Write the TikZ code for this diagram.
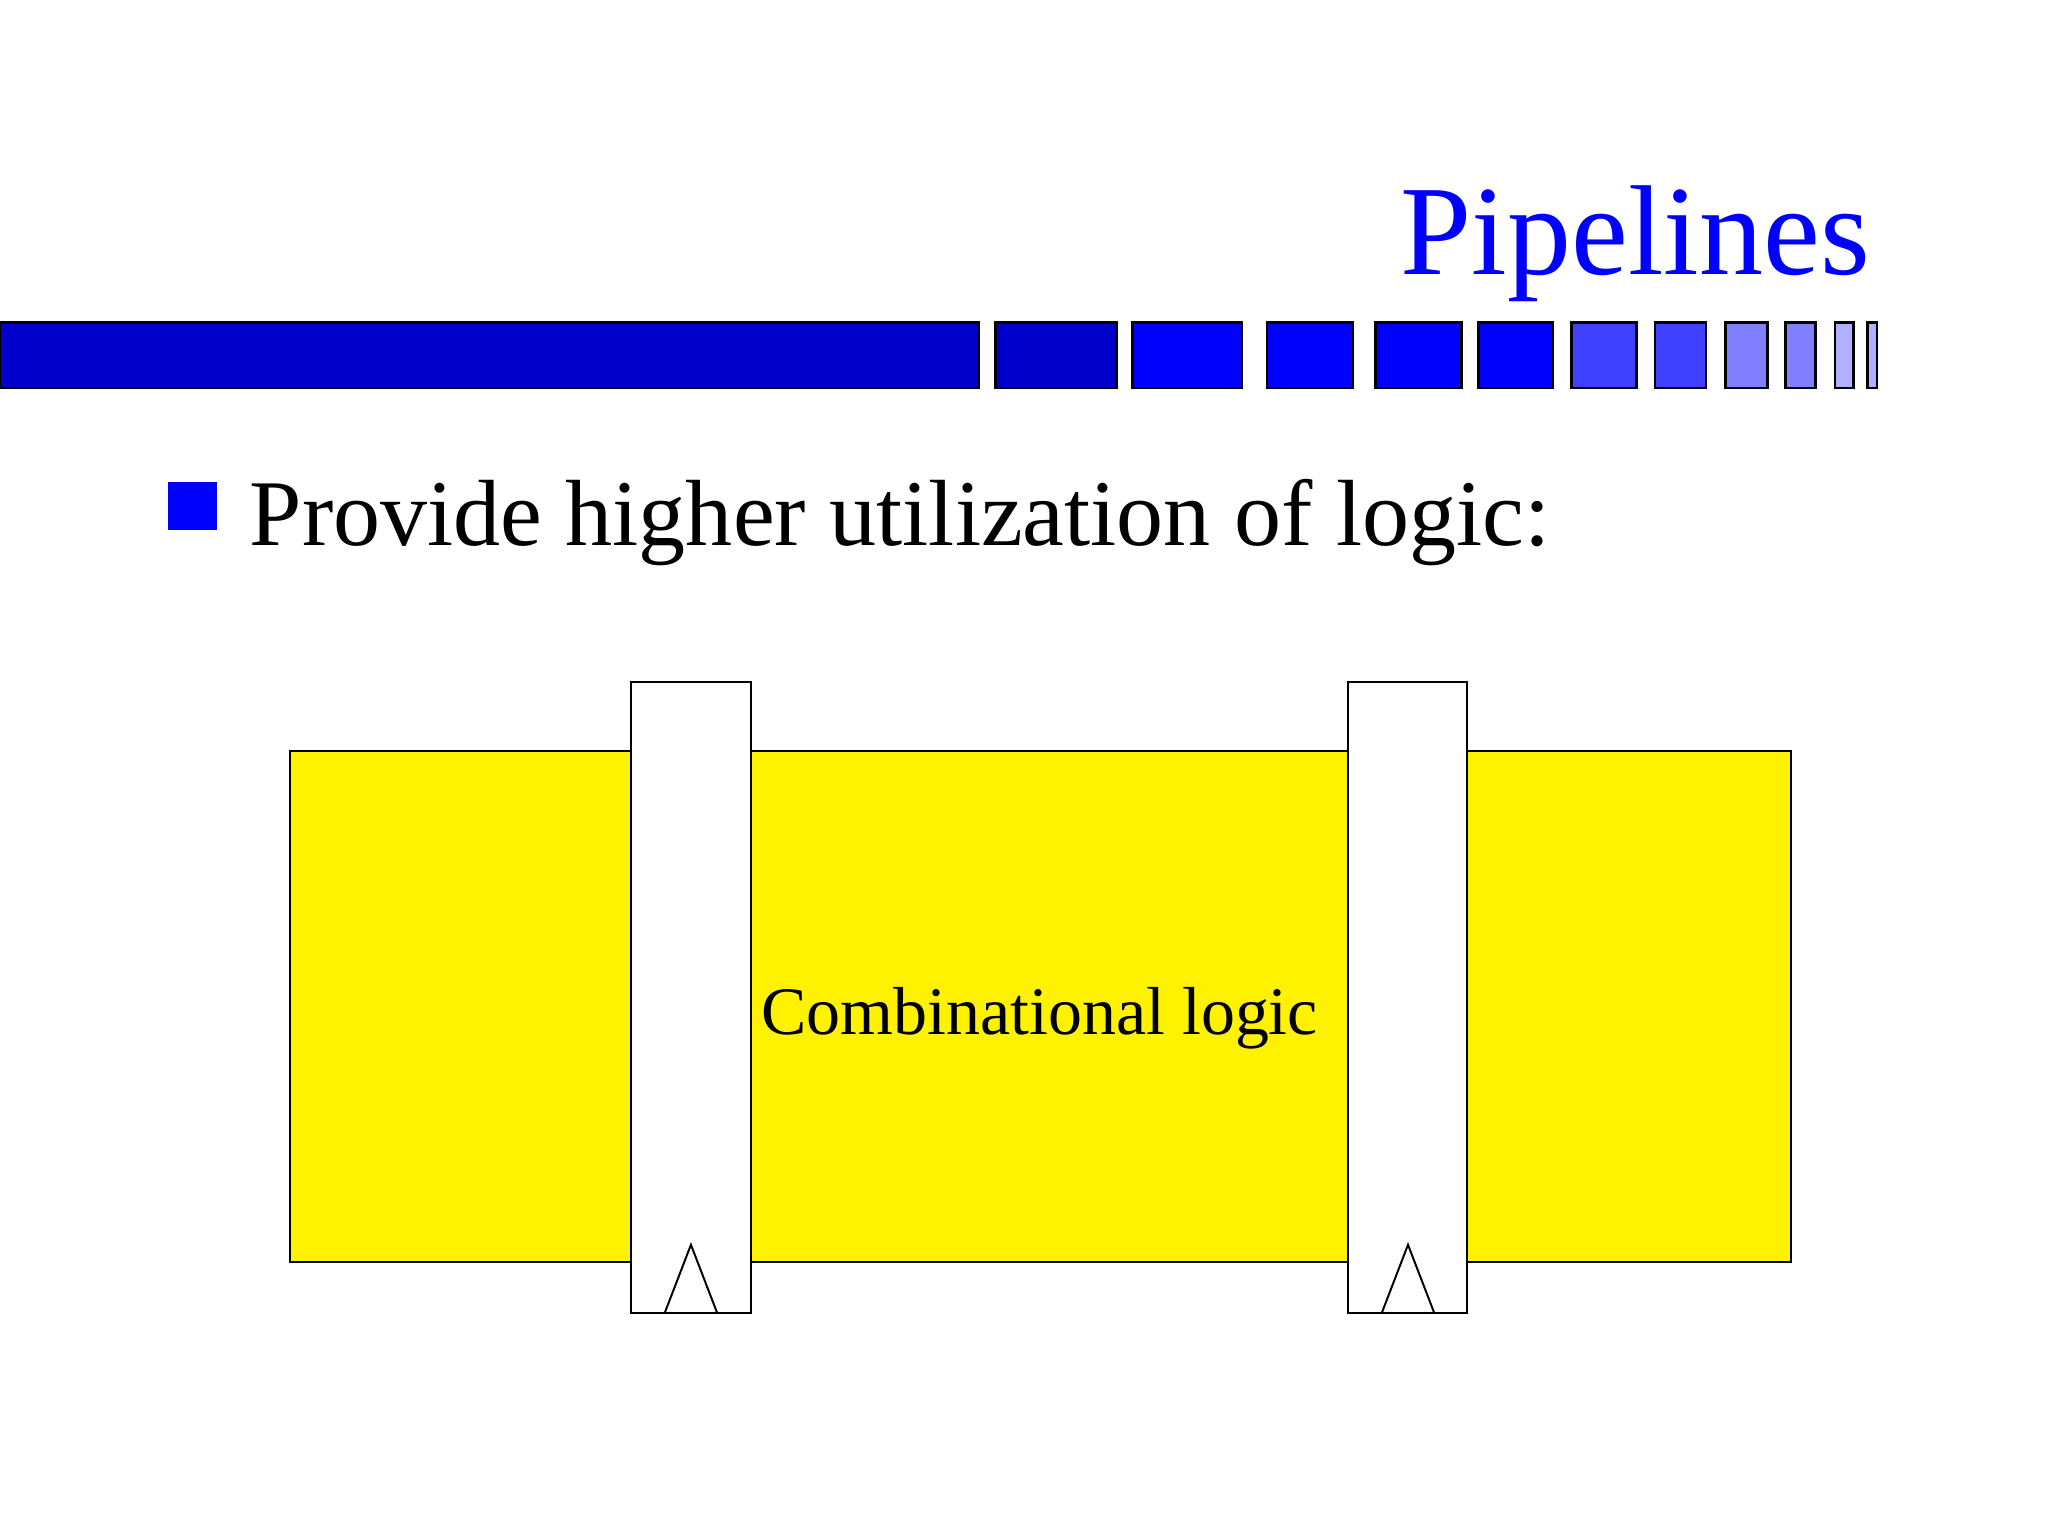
\documentclass[tikz,border=0pt]{standalone}
\usepackage{fontspec}
\setmainfont{Liberation Serif}
\begin{document}
\begin{tikzpicture}[x=1pt,y=-1pt,
  seg/.style={draw=black,line width=2pt},
  reg/.style={draw=black,fill=white,line width=1.5pt},
  txt/.style={inner sep=0pt,anchor=base west}]
\useasboundingbox (0,0) rectangle (1568,1176);
\definecolor{b1}{HTML}{0000CC}\definecolor{b2}{HTML}{0000FF}
\definecolor{b3}{HTML}{4040FF}\definecolor{b4}{HTML}{8080FF}\definecolor{b5}{HTML}{B0B0FF}
\foreach \a/\b/\c in {0/749/b1,762/855/b1,867/951/b2,970/1036/b2,1053/1119/b2,1132/1189/b2,1203/1253/b3,1267/1306/b3,1321/1353/b4,1367/1390/b4,1405/1419/b5,1430/1437/b5}
  \draw[seg,fill=\c] (\a,247) rectangle (\b,297);
\node[inner sep=0pt,anchor=base east,text=b2,font=\fontsize{98}{98}\selectfont] (title) at (1432,210) {Pipelines};
\fill[b2] (129,369) rectangle (166,406);
\node[txt,font=\fontsize{72}{72}\selectfont] (bul) at (191,418) {Provide higher utilization of logic:};
\draw[line width=1.5pt,fill=yellow] (222,575) rectangle (1371,966);
\draw[reg] (483,522) rectangle (575,1005);
\draw[reg] (1032,522) rectangle (1123,1005);
\draw[line width=1.5pt] (509,1005) -- (529,953) -- (549,1005);
\draw[line width=1.5pt] (1058,1005) -- (1078,953) -- (1098,1005);
\node[inner sep=0pt,anchor=base,font=\fontsize{52}{52}\selectfont] (cl) at (796,792) {Combinational logic};
\end{tikzpicture}
\end{document}
